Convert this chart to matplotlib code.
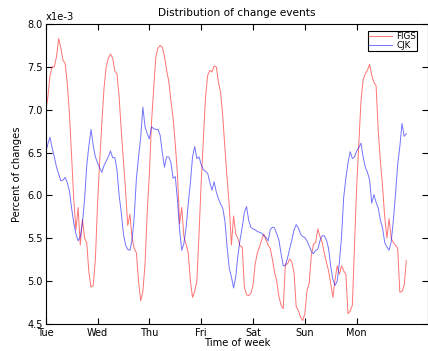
import numpy as np
import matplotlib
matplotlib.use('Agg')
import matplotlib.pyplot as plt

days = ['Tue', 'Wed', 'Thu', 'Fri', 'Sat', 'Sun', 'Mon']

# hourly share of changes (units of 1e-3), Tue 00:00 onwards
figs = [6.98, 7.15, 7.40, 7.50, 7.50, 7.62, 7.83, 7.72, 7.58, 7.54,
        7.30, 6.95, 6.45, 5.95, 5.60, 5.86, 5.42, 5.72, 5.50, 5.45,
        5.10, 4.93, 4.95, 5.25, 5.90, 6.40, 6.85, 7.25, 7.50, 7.60,
        7.65, 7.60, 7.45, 7.42, 7.15, 6.75, 6.40, 6.05, 5.65, 5.78,
        5.50, 5.38, 5.33, 5.00, 4.77, 4.88, 5.20, 5.80, 6.25, 6.85,
        7.25, 7.62, 7.72, 7.75, 7.73, 7.62, 7.46, 7.33, 7.10, 6.90,
        6.60, 6.25, 5.67, 5.86, 5.52, 5.43, 5.33, 5.00, 4.81, 4.88,
        5.00, 5.55, 6.15, 6.65, 7.15, 7.40, 7.46, 7.44, 7.51, 7.50,
        7.32, 7.20, 6.92, 6.55, 6.20, 5.88, 5.42, 5.76, 5.55, 5.50,
        5.41, 5.40, 4.93, 4.84, 4.83, 4.86, 4.95, 5.20, 5.33, 5.40,
        5.48, 5.55, 5.48, 5.42, 5.38, 5.25, 5.10, 5.00, 4.82, 4.72,
        4.68, 5.20, 5.20, 5.26, 5.22, 5.10, 4.70, 4.66, 4.58, 4.54,
        4.62, 4.89, 4.97, 5.30, 5.43, 5.45, 5.61, 5.52, 5.45, 5.33,
        5.22, 5.12, 4.97, 4.81, 5.02, 5.18, 5.08, 5.18, 5.12, 5.08,
        4.62, 4.65, 4.72, 5.40, 6.10, 6.60, 7.10, 7.35, 7.42, 7.46,
        7.53, 7.40, 7.32, 7.28, 6.75, 6.40, 6.10, 5.75, 5.50, 5.73,
        5.50, 5.45, 5.42, 5.38, 4.87, 4.88, 4.95, 5.24]

cjk = [6.50, 6.60, 6.68, 6.55, 6.45, 6.33, 6.25, 6.17, 6.18, 6.21,
       6.15, 6.05, 5.85, 5.68, 5.55, 5.47, 5.52, 5.68, 5.95, 6.35,
       6.58, 6.77, 6.58, 6.45, 6.38, 6.32, 6.27, 6.35, 6.40, 6.45,
       6.52, 6.44, 6.44, 6.30, 6.00, 5.80, 5.55, 5.42, 5.37, 5.36,
       5.48, 5.75, 6.20, 6.45, 6.68, 7.03, 6.80, 6.72, 6.66, 6.80,
       6.78, 6.77, 6.77, 6.70, 6.50, 6.33, 6.45, 6.45, 6.38, 6.20,
       6.22, 5.95, 5.60, 5.36, 5.44, 5.62, 5.90, 6.15, 6.45, 6.57,
       6.43, 6.45, 6.36, 6.30, 6.28, 6.26, 6.15, 6.06, 6.16, 6.04,
       5.96, 5.90, 5.85, 5.70, 5.40, 5.15, 5.05, 4.92, 5.05, 5.30,
       5.48, 5.63, 5.80, 5.87, 5.71, 5.63, 5.61, 5.60, 5.58, 5.57,
       5.56, 5.53, 5.51, 5.47, 5.60, 5.63, 5.62, 5.55, 5.48, 5.32,
       5.18, 5.18, 5.27, 5.38, 5.48, 5.60, 5.66, 5.62, 5.55, 5.52,
       5.51, 5.47, 5.41, 5.35, 5.32, 5.36, 5.37, 5.47, 5.53, 5.53,
       5.48, 5.38, 5.17, 5.02, 4.95, 5.00, 5.22, 5.52, 5.98, 6.20,
       6.38, 6.51, 6.43, 6.45, 6.52, 6.56, 6.61, 6.45, 6.33, 6.27,
       6.18, 5.91, 6.01, 5.92, 5.85, 5.71, 5.62, 5.45, 5.40, 5.36,
       5.46, 5.71, 6.02, 6.36, 6.57, 6.84, 6.69, 6.72]

hours = np.arange(len(figs))

plt.rcParams['font.family'] = 'DejaVu Sans'
plt.rcParams['font.size'] = 7

fig = plt.figure(figsize=(4.28, 3.51), dpi=100)
ax = fig.add_axes([0.1068, 0.0769, 0.893, 0.8547])

ax.plot(hours, figs, color='red', lw=0.7, alpha=0.55, label='FIGS')
ax.plot(hours, cjk, color='blue', lw=0.7, alpha=0.55, label='CJK')

ax.set_xlim(0, 177)
ax.set_ylim(4.5, 8.0)
ax.set_xticks(np.arange(len(days)) * 24)
ax.set_xticklabels(days)
ax.set_yticks(np.arange(4.5, 8.01, 0.5))
ax.set_yticklabels(['%.1f' % v for v in np.arange(4.5, 8.01, 0.5)])
ax.tick_params(direction='in', top=True, right=True, length=4, width=0.8,
               labelsize=7, pad=2)
ax.tick_params(axis='x', pad=3)
for s in ax.spines.values():
    s.set_linewidth(0.8)

ax.set_title('Distribution of change events', fontsize=7.6, pad=6)
ax.set_xlabel('Time of week', fontsize=7.2, labelpad=0)
ax.set_ylabel('Percent of changes', fontsize=7.2, labelpad=4)
ax.text(0.0, 1.006, 'x1e-3', transform=ax.transAxes, ha='left', va='bottom',
        fontsize=7.2)

leg = ax.legend(loc='upper right', bbox_to_anchor=(417 / 428, 1 - 31 / 351),
                bbox_transform=fig.transFigure, borderaxespad=0, fancybox=False,
                framealpha=1, edgecolor='black', fontsize=6.3, handlelength=2.6,
                handletextpad=0.5, labelspacing=0.0, borderpad=0.12)
leg.get_frame().set_linewidth(0.8)

fig.savefig('out.png', dpi=100)
